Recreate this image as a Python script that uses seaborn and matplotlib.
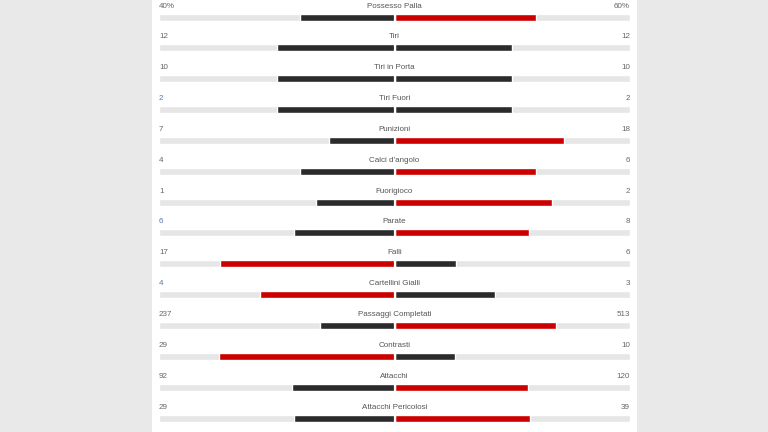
import pandas as pd
import numpy as np
import matplotlib.pyplot as plt
import seaborn as sns
from matplotlib.patches import Rectangle

labels = ['Possesso Palla', 'Tiri', 'Tiri in Porta', 'Tiri Fuori', 'Punizioni',
          "Calci d'angolo", 'Fuorigioco', 'Parate', 'Falli', 'Cartellini Gialli',
          'Passaggi Completati', 'Contrasti', 'Attacchi', 'Attacchi Pericolosi']
home = [40, 12, 10, 2, 7, 4, 1, 6, 17, 4, 237, 29, 92, 29]
away = [60, 12, 10, 2, 18, 6, 2, 8, 6, 3, 513, 10, 120, 39]
home_txt = ['40%', '12', '10', '2', '7', '4', '1', '6', '17', '4', '237', '29', '92', '29']
away_txt = ['60%', '12', '10', '2', '18', '6', '2', '8', '6', '3', '513', '10', '120', '39']
blue_left = ['Tiri Fuori', 'Parate', 'Cartellini Gialli']

RED = '#cc0000'
DARK = '#2b2b2b'
TRACK = '#e6e6e6'
TXT = '#666666'

sns.set_style('white')
plt.rcParams['font.family'] = ['Liberation Sans', 'DejaVu Sans']

rows = []
for lab, h, a in zip(labels, home, away):
    tot = h + a
    rows.append({'stat': lab, 'side': 'home', 'frac': -h / tot,
                 'col': RED if h > a else DARK})
    rows.append({'stat': lab, 'side': 'away', 'frac': a / tot,
                 'col': RED if a > h else DARK})
df = pd.DataFrame(rows)

W, H = 768, 432
fig = plt.figure(figsize=(W / 100, H / 100), dpi=100, facecolor='#e9e9e9')
fig.patches.append(Rectangle((152 / W, 0), (637 - 152) / W, 1,
                             transform=fig.transFigure, facecolor='white',
                             edgecolor='none', zorder=-1))

ax = fig.add_axes([159 / W, 0, (630 - 159) / W, 1])
ax.set_zorder(2)
ax.set_facecolor('none')

bh = 7 / 30.85
ax.barh(np.arange(len(labels)), [2.0] * len(labels), left=-1, height=bh,
        color=TRACK, zorder=1)

for side in ['home', 'away']:
    sub = df[df['side'] == side]
    sns.barplot(data=sub, x='frac', y='stat', hue='stat', orient='h',
                palette=dict(zip(sub['stat'], sub['col'])), width=bh,
                saturation=1, legend=False, ax=ax, zorder=2, order=labels)

ax.axvline(0, color='white', lw=1.6, zorder=3)

dy = 11 / 30.85
fs = 5.8
for i, lab in enumerate(labels):
    ax.text(0, i - dy, lab, ha='center', va='center', fontsize=fs, color='#555555')
    lc = '#5b77a6' if lab in blue_left else TXT
    ax.text(-1, i - dy, home_txt[i], ha='left', va='center', fontsize=fs, color=lc)
    ax.text(1, i - dy, away_txt[i], ha='right', va='center', fontsize=fs, color=TXT)

ax.set_xlim(-1, 1)
ax.set_ylim((432 - 17) / 30.85, -17 / 30.85)
ax.set_xlabel('')
ax.set_ylabel('')
ax.set_xticks([])
ax.set_yticks([])
sns.despine(ax=ax, left=True, bottom=True)

fig.savefig('out.png', dpi=100, facecolor=fig.get_facecolor())
